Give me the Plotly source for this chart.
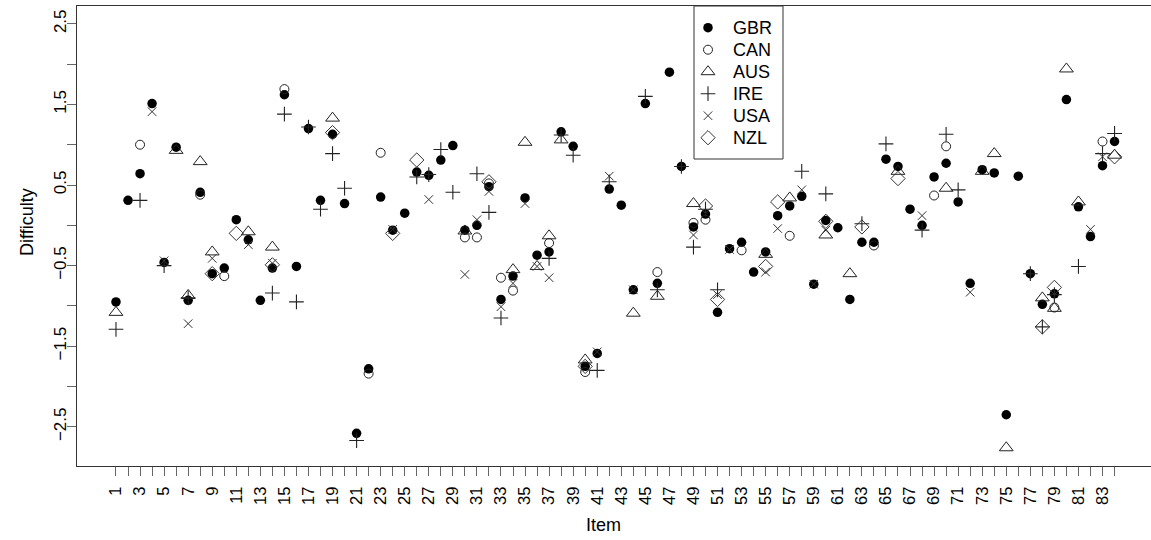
import plotly.graph_objects as go

N = None
items = list(range(1, 85))

GBR = [-0.95, 0.31, 0.64, 1.51, -0.46, 0.97, -0.93, 0.41, -0.60, -0.53,
       0.07, -0.18, -0.93, -0.53, 1.62, -0.51, 1.20, 0.31, 1.13, 0.27,
       -2.58, -1.78, 0.35, -0.06, 0.15, 0.66, 0.62, 0.81, 0.99, -0.06,
       0.00, 0.48, -0.92, -0.63, 0.34, -0.37, -0.33, 1.16, 0.98, -1.75,
       -1.59, 0.45, 0.25, -0.80, 1.51, -0.72, 1.90, 0.73, -0.02, 0.14,
       -1.08, -0.29, -0.21, -0.58, -0.33, 0.12, 0.24, 0.36, -0.73, 0.06,
       -0.03, -0.92, -0.21, -0.21, 0.82, 0.73, 0.20, 0.00, 0.60, 0.77,
       0.29, -0.72, 0.69, 0.65, -2.35, 0.61, -0.60, -0.98, -0.85, 1.56,
       0.23, -0.14, 0.74, 1.04]
CAN = [N, N, 1.00, N, N, N, N, 0.38, N, -0.63,
       N, N, N, N, 1.69, N, N, N, N, N,
       N, -1.84, 0.90, N, N, N, N, N, N, -0.15,
       -0.15, 0.52, -0.65, -0.81, N, N, -0.22, N, N, -1.82,
       N, N, N, N, N, -0.58, N, N, 0.03, 0.07,
       N, N, -0.31, N, N, N, -0.13, N, N, N,
       N, N, N, -0.25, N, N, N, N, 0.37, 0.98,
       N, N, N, N, N, N, N, N, -1.02, N,
       N, N, 1.04, N]
AUS = [-1.08, N, N, N, N, 0.93, -0.87, 0.79, -0.33, N,
       N, -0.08, N, -0.27, N, N, N, N, 1.33, N,
       N, N, N, N, N, N, N, N, N, -0.07,
       N, N, N, -0.55, 1.03, -0.51, -0.13, 1.06, N, -1.67,
       N, N, N, -1.09, N, -0.88, N, N, 0.27, N,
       N, N, N, N, -0.36, N, 0.34, N, N, -0.12,
       N, -0.60, N, N, N, 0.67, N, N, N, 0.46,
       N, N, 0.67, 0.89, -2.76, N, N, -0.90, -1.03, 1.94,
       0.29, N, N, 0.87]
IRE = [-1.29, N, 0.31, N, -0.50, N, -0.90, N, N, N,
       N, N, N, -0.84, 1.38, -0.95, 1.22, 0.20, 0.89, 0.46,
       -2.67, N, N, N, N, 0.60, 0.63, 0.94, 0.41, N,
       0.64, 0.16, -1.15, N, N, N, -0.41, 1.12, 0.87, N,
       -1.80, 0.54, N, N, 1.60, -0.80, N, 0.73, -0.27, 0.20,
       -0.80, N, N, N, N, N, N, 0.67, N, 0.39,
       N, N, 0.02, N, 1.01, N, N, -0.06, N, 1.13,
       0.44, N, N, N, N, N, -0.60, -1.26, -0.86, N,
       -0.51, N, 0.89, 1.14]
USA = [N, N, N, 1.41, -0.44, N, -1.22, N, -0.41, N,
       N, -0.24, N, -0.47, N, N, N, N, N, N,
       N, N, N, -0.05, N, N, 0.32, N, N, -0.61,
       0.07, 0.42, -1.01, -0.72, 0.27, -0.51, -0.65, N, N, N,
       -1.57, 0.61, N, -0.80, N, N, N, N, -0.12, N,
       -0.86, -0.30, N, N, -0.58, -0.04, N, 0.44, -0.73, -0.06,
       N, N, N, N, N, N, N, 0.12, N, N,
       N, -0.83, N, N, N, N, N, N, N, N,
       N, -0.05, 0.85, N]
NZL = [N, N, N, N, N, N, N, N, -0.60, N,
       -0.10, N, N, -0.49, N, N, N, N, 1.15, N,
       N, N, N, -0.10, N, 0.81, N, N, N, N,
       N, 0.54, N, N, N, N, N, N, N, -1.75,
       N, N, N, N, N, N, N, N, N, 0.24,
       -0.92, N, N, N, -0.51, 0.29, N, N, N, 0.05,
       N, N, -0.02, N, N, 0.58, N, N, N, N,
       N, N, N, N, N, N, N, -1.26, -0.77, N,
       N, N, N, 0.85]

series = [
    ("GBR", GBR, dict(symbol="circle", size=9.5, color="black", line=dict(width=0))),
    ("CAN", CAN, dict(symbol="circle-open", size=9, color="#222", line=dict(width=1))),
    ("AUS", AUS, dict(symbol="triangle-up-open", size=12, color="#222", line=dict(width=1))),
    ("IRE", IRE, dict(symbol="cross-thin-open", size=10.5, color="#222", line=dict(width=1.1))),
    ("USA", USA, dict(symbol="x-thin-open", size=8.5, color="#333", line=dict(width=1))),
    ("NZL", NZL, dict(symbol="diamond-open", size=11, color="#333", line=dict(width=1))),
]

font = "Liberation Sans, Arial, sans-serif"

fig = go.Figure()
for name, vals, mk in series:
    fig.add_trace(go.Scatter(x=items, y=vals, mode="markers", name=name, marker=mk,
                             showlegend=False))

# hand-built legend (R-style box) on an overlay pixel axis
L, R, T, B = 77, 1151, 6, 466
leg_left, leg_right, leg_top, leg_bot = 694, 783, 6, 159
leg_mx, leg_tx, leg_y0, leg_dy = 708, 731, 27.7, 22.0
annotations = [
    dict(text="Item", xref="paper", yref="paper", x=(603 - L) / (R - L), y=-(525 - B) / (B - T),
         showarrow=False, font=dict(size=18, family=font), xanchor="center", yanchor="middle"),
    dict(text="Difficulty", xref="paper", yref="paper", x=-(L - 27) / (R - L), y=(B - 222) / (B - T),
         showarrow=False, font=dict(size=18, family=font), textangle=-90,
         xanchor="center", yanchor="middle"),
]
for k, (name, vals, mk) in enumerate(series):
    yk = leg_y0 + k * leg_dy
    fig.add_trace(go.Scatter(x=[leg_mx], y=[yk], mode="markers", xaxis="x2", yaxis="y2",
                             showlegend=False, hoverinfo="skip", marker=mk))
    annotations.append(dict(text=name, xref="x2", yref="y2", x=leg_tx, y=yk,
                            showarrow=False, xanchor="left", yanchor="middle",
                            font=dict(size=18, family=font, color="black")))

ytv = [-2.5, -2.0, -1.5, -1.0, -0.5, 0.0, 0.5, 1.0, 1.5, 2.0, 2.5]
ytt = [("%.1f" % v).replace("-", "\u2212") if abs(v * 2) % 2 == 1 else "" for v in ytv]
xtt = [str(i) if i % 2 == 1 else "" for i in items]

fig.update_layout(
    width=1151, height=540,
    margin=dict(l=L, r=0, t=T, b=540 - B),
    paper_bgcolor="white", plot_bgcolor="white",
    font=dict(family=font, color="black"),
    showlegend=False,
    xaxis=dict(range=[-2.24, 87.03], showgrid=False, zeroline=False,
               showline=True, linecolor="#333", linewidth=1, mirror=True,
               ticks="outside", ticklen=9, tickcolor="#666",
               tickvals=items, ticktext=xtt, tickangle=-90,
               tickfont=dict(size=16.5, family=font),
               ticklabelstandoff=4),
    yaxis=dict(range=[-2.986, 2.721], showgrid=False, zeroline=False,
               showline=True, linecolor="#333", linewidth=1,
               ticks="outside", ticklen=9, tickcolor="#666",
               tickvals=ytv, ticktext=ytt, tickangle=-90,
               tickfont=dict(size=17, family=font),
               ticklabelstandoff=-6),
    xaxis2=dict(overlaying="x", range=[L, R], visible=False, fixedrange=True),
    yaxis2=dict(overlaying="y", range=[B, T], visible=False, fixedrange=True),
    shapes=[dict(type="rect", xref="x2", yref="y2", x0=leg_left, x1=leg_right,
                 y0=leg_top, y1=leg_bot, line=dict(color="#333", width=1),
                 fillcolor="rgba(0,0,0,0)", layer="above")],
    annotations=annotations,
)

fig.write_html("out.html")
